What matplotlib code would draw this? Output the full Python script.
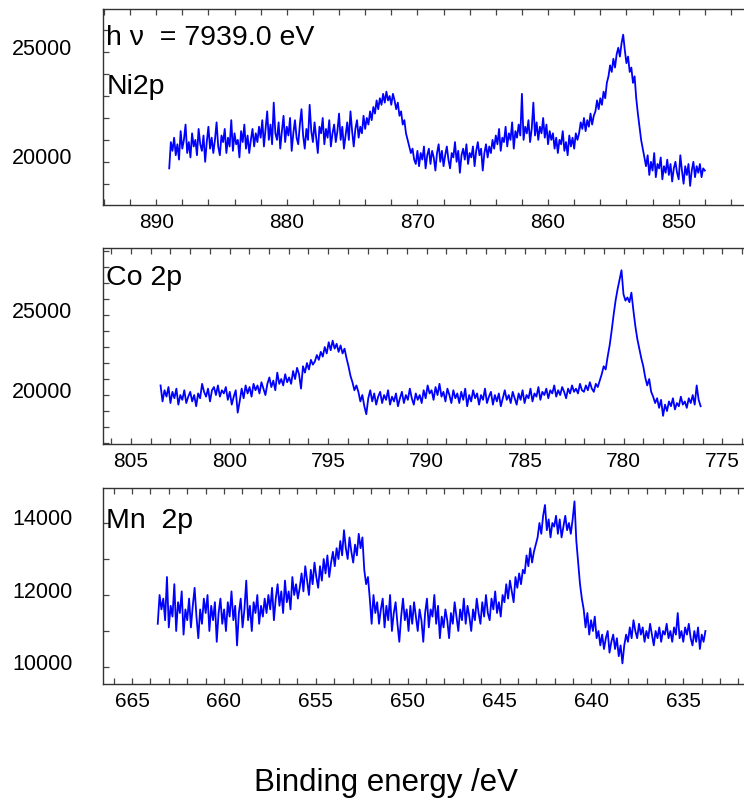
import numpy as np
import matplotlib
matplotlib.use('Agg')
import matplotlib.pyplot as plt
from matplotlib.ticker import MultipleLocator

plt.rcParams['font.family'] = ['Liberation Sans', 'DejaVu Sans']

# binding energy span of each scan (start, end) in eV
ni_span = (889.0, 848.0)
co_span = (803.5, 776.1)
mn_span = (663.6, 633.8)

ni_counts = [
    19700, 20900, 20500, 21100, 20300, 20800, 20100, 21400, 20600, 21000,
    21700, 20400, 20900, 20200, 21300, 20700, 21000, 20300, 21500, 20800,
    20500, 21200, 20000, 20900, 21600, 20600, 21100, 20400, 21000, 21800,
    20700, 20300, 21200, 20900, 21500, 20400, 21100, 20700, 21900, 20500,
    21300, 20800, 21000, 20200, 21400, 20900, 21700, 20600, 21200, 20400,
    21000, 21500, 20700, 21300, 20900, 21600,
    21100, 21900, 20700, 21500, 22300, 21000, 21700, 20800, 22700, 21300,
    21000, 21800, 20600, 21400, 22100, 20900, 21600, 21200, 22000, 20500,
    21300, 21900, 21100, 20800, 21700, 22400, 21200, 20600, 21500, 21000,
    22600, 21400, 20900, 21800, 21100, 20400, 21600, 21300, 22000, 20800,
    21500, 21100, 21900, 20700, 21300, 21700, 20900, 21400, 22200, 21000,
    21600, 20600, 21200, 21800, 21000, 22300, 21400, 20700, 21500, 21900,
    21100, 21600, 21300, 22100,
    21500, 22000, 21700, 22300, 21900, 22500, 22200, 22800, 22400, 22900, 22600,
    23100, 22700, 23200, 22800, 23000, 22600, 23100, 22800,
    22400, 22700, 22100, 22300, 21700, 21900, 21300, 21000, 20700, 20400,
    20600, 20100, 19900,
    20500, 19800, 20400, 20100, 20700, 19700, 20300, 20600, 19900, 20500,
    20200, 19600, 20400, 20800, 20000, 20500, 19800, 20300, 20700, 20100,
    19700, 20400, 20200, 20900, 20000, 20500, 19500, 20300, 20600, 20100,
    20800, 19900, 20400, 20200, 20700, 19800, 20500, 20900, 20300, 20600,
    19600, 20400, 20800, 20200, 20700,
    20400, 21000, 20600, 21200, 20800, 21500, 20500, 21100, 20900, 21600,
    20700, 21300, 21000, 21800, 20600, 21400, 21100, 21700, 21200, 23100,
    21000, 21600, 21300, 21900, 20900, 21500, 22700, 21200, 21800, 21000,
    21600, 21300, 22000, 21100, 21700, 20800, 21400, 21000,
    21300, 20600, 21100, 20400, 21000, 20800, 21400, 20500, 20900, 20300,
    21200, 20700, 21100, 20600, 21300, 21000,
    21300, 21800, 21500, 22000, 21400, 21900, 21600, 22200, 21700, 22100,
    22300, 22800, 22400, 22900, 22600, 23200, 22900, 23600,
    23900, 24400, 24100, 24700, 24300, 24900, 25200, 24800, 25400, 25800,
    25100, 24500, 24800, 24100, 24300, 23600, 23900, 22900,
    22200, 21600, 21000, 20600, 20200,
    19800, 20300, 19400, 20000, 19600, 20400, 19300, 19900, 19700, 20200,
    19200, 19800, 19500, 20100, 19400, 19900, 19100, 19700, 20000, 19500,
    19200, 20300, 19600, 19000, 19800, 19400, 19900, 18900, 19600, 20000,
    19300, 19800, 19500, 19900, 19300, 19700, 19600,
]

co_counts = [
    20600, 19600, 20300, 19900, 20500, 19500, 20200, 19800, 20400, 19400,
    20000, 19700, 20300, 19500, 19900, 20200, 19600, 20000, 19300, 20100,
    19800, 20700, 20200, 19900, 20400, 19600, 20300, 20500, 20000, 20600,
    19900, 20300, 20100, 20500, 19700, 20200, 19400, 19900, 20300, 18900,
    19600, 20400, 19800, 20600, 20100, 20500, 19900, 20700, 20300, 20600,
    20100, 20800, 20400, 20000, 20700, 21100, 20500, 20900, 20300, 21400,
    20700, 21000, 20600, 21300, 20800,
    21100, 20700, 21500, 21000, 21700, 21300, 20400, 21800, 21400, 22000,
    21600, 22200, 21900,
    22100, 22500, 22200, 22700, 22400, 23000, 22600, 23300, 22800,
    23400, 22900, 23200, 22700, 23100, 22600, 22900, 22300,
    21800, 21200, 20800, 20300, 20600,
    20200, 19600, 20000, 19300, 18800, 19800, 20300, 19600, 20100, 19400,
    19900, 20200, 19500, 20000, 19700, 20300, 19400, 19900, 19600, 20100,
    19300, 19800, 20200, 19500, 20000, 19700, 20400, 19800, 19400, 20100,
    19700, 20000, 19500, 20300, 19800, 20600, 20100, 20300, 19700, 20500,
    20000, 20700, 19900, 20200, 19600, 20400, 20000, 19500, 20300, 19800,
    20100, 19500, 20200, 19700, 20400, 19300, 20000, 19600, 20300, 19800,
    20100, 19400, 20000, 19700, 20400, 19500, 19900, 20200, 19400, 20000,
    19600, 20100, 19300, 19800, 20300, 19700, 20000, 19500, 20200, 19800,
    19400, 20100, 19700, 20300, 19500, 20000, 19800, 20400, 19600, 20100,
    19900, 20500, 19700, 20200, 20000, 20400, 19800, 20300, 20100, 20600,
    19900, 20300, 20000, 20500, 20200, 19800, 20400, 20100, 20600, 20200,
    20400, 20100, 20700, 20300,
    20200, 20600, 20300, 20800, 20400, 20200, 20700, 20500, 20900,
    21300, 21800, 21600, 22400, 23100, 24000,
    25000, 25900, 26600, 27200, 27800,
    26300, 25900, 26100, 25800, 26400,
    25300, 24300, 23500, 22900, 22300, 21800,
    21100, 20600, 21000, 20200, 19900, 19500, 19800,
    19200, 19700, 18700, 19400, 19000, 19600, 19300, 19800, 19100, 19500,
    19300, 19900, 19400, 19600, 19200, 19800, 19500, 20000, 19400, 20600,
    19700, 19300,
]

mn_counts = [
    11200, 12000, 11600, 11900, 11300, 12500, 11100, 11700, 11400, 12300,
    11000, 11800, 11500, 12100, 10900, 11600, 11300, 11900, 11100, 11700,
    12200, 11400, 10800, 11600, 11200, 11900, 11500, 12000, 11000, 11700,
    11300, 11800, 10700, 11500, 11900, 11200, 11600, 11000, 11800, 11400,
    12100, 11300, 11700, 10600, 11500, 11900, 11100, 11600, 12400, 11300,
    11700, 11000, 11800, 11500, 12000, 11200, 11700, 11400, 11900,
    11500, 12000, 11600, 12200, 11300, 11900, 12300, 11700, 12100, 11500,
    12400, 11800, 12100, 11600, 12500, 12000, 12300, 11900,
    12200, 12600, 12100, 12800, 12400, 12000, 12700, 12300, 12900, 12500,
    12200, 12800, 12400, 13000, 12600, 13100, 12500, 12900, 13200,
    12800, 13300, 13000, 13500, 13100, 13800, 13300, 13000, 13600, 13200,
    12900, 13400, 13100, 13700, 13300, 13600,
    12700, 12300, 12500, 11900, 11200,
    12000, 11500, 11800, 11200, 11600, 11900, 11100, 11700, 11300, 12000,
    11000, 11500, 11800, 11200, 10700, 11400, 11900, 11300, 11600, 11000,
    11700, 11200, 11800, 11400, 11000, 11600, 11300, 10700, 11500, 11900,
    11100, 11600, 11400, 12000, 11200, 11700, 10800, 11400, 11100, 11600,
    11300, 10800, 11500, 11200, 11800, 11400, 11000, 11600, 11300, 11900,
    11200, 11700, 11400, 11000, 11600, 11300, 11900, 11500, 11200, 11800,
    11400, 12000, 11500, 11300, 11900, 11600, 12100, 11500, 11800, 11400, 12000,
    11800, 12300, 11900, 12400, 12100, 11800, 12500, 12200, 12600, 12300, 12700,
    12600, 13100, 12800, 13300, 12900, 13200, 13400,
    13600, 14000, 13700, 14200, 14500, 13800, 14100, 13600, 14000, 13900,
    14200, 13700, 14100, 13600, 13900, 14200, 13800, 14000, 13700, 14100,
    14600,
    13500, 12900, 12300, 11900,
    11600, 11100, 11500, 10900, 11300, 11000, 11400, 10800,
    11000, 10600, 10900, 10500, 10800, 11000, 10400, 10700, 10900, 10500,
    10800, 10300, 10600, 10100,
    10600, 10900, 10700, 11100, 10800, 11300, 11000, 10800, 11200, 10900,
    11100, 10700, 11000, 10800, 11200, 10900, 10600, 11000, 10800, 11100,
    10700, 11000, 10900, 11200, 10800, 11000, 10700, 11100, 10900, 11500,
    10800, 11000, 10700, 11100, 10900, 11200, 10800, 10600, 11000, 10700,
    11100, 10500, 10900, 10700, 11000,
]

# labelled y ticks of each panel
ni_yticks = [20000, 25000]
co_yticks = [20000, 25000]
mn_yticks = [10000, 12000, 14000]

W, H = 744, 809
fig = plt.figure(figsize=(W / 100, H / 100), dpi=100)

def panel(top_px, span, counts, xlim, ylim, xmaj, xmin, yticks, label, label_y):
    left = 102.6
    ax = fig.add_axes([left / W, 1 - (top_px + 196) / H, (W - left) / W, 196 / H])
    x = np.linspace(span[0], span[1], len(counts))
    ax.plot(x, counts, color='#0000ff', lw=1.3)
    ax.set_xlim(*xlim)
    ax.set_ylim(*ylim)
    ax.xaxis.set_major_locator(MultipleLocator(xmaj))
    ax.xaxis.set_minor_locator(MultipleLocator(xmin))
    ax.yaxis.set_major_locator(MultipleLocator(1000))
    ax.spines['right'].set_visible(False)
    for s in ['left', 'top', 'bottom']:
        ax.spines[s].set_color('#333333')
        ax.spines[s].set_linewidth(1.0)
    ax.tick_params(which='both', direction='in', top=True, right=False,
                   length=4, width=0.9, color='#444444', labelsize=15)
    ax.tick_params(axis='x', pad=6)
    ax.tick_params(axis='y', labelleft=False)
    # y labels sit a little above their ticks in the original
    for v in yticks:
        ax.annotate(str(v), xy=(0, v), xycoords=('axes fraction', 'data'),
                    xytext=(-30, 3), textcoords='offset pixels',
                    ha='right', va='center', fontsize=15.5)
    ax.text(0.006, label_y, label, transform=ax.transAxes, fontsize=20.5,
            va='center', ha='left')
    return ax

ax1 = panel(9, ni_span, ni_counts, (894.1, 845.0), (18030, 26970),
            10, 2, ni_yticks, 'Ni2p', 0.602)
ax1.text(0.006, 0.852, 'h \u03bd  = 7939.0 eV', transform=ax1.transAxes,
         fontsize=20.5, va='center', ha='left')

panel(248, co_span, co_counts, (806.44, 773.9), (16940, 29190),
      5, 1, co_yticks, 'Co 2p', 0.847)

panel(488, mn_span, mn_counts, (666.6, 631.7), (9528, 14972),
      5, 1, mn_yticks, 'Mn  2p', 0.832)

fig.text(386 / W, 1 - 783 / H, 'Binding energy /eV', fontsize=22.5,
         ha='center', va='center')

fig.savefig('out.png', dpi=100)
